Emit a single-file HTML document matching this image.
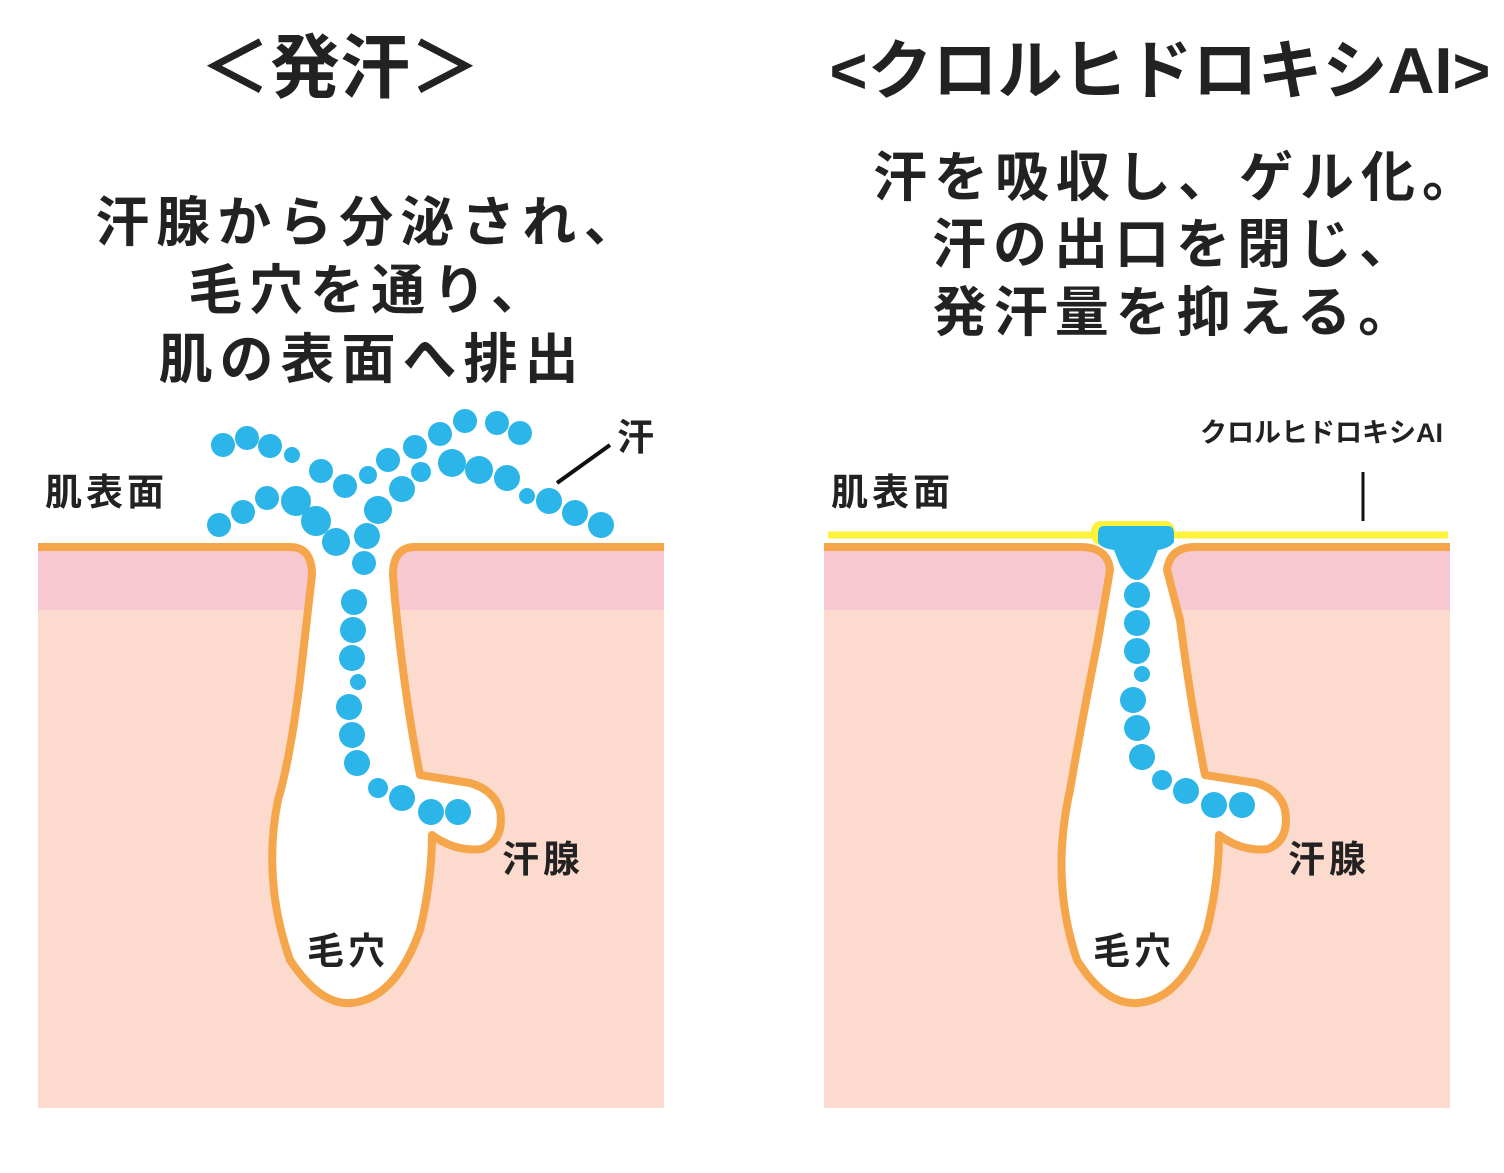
<!DOCTYPE html>
<html><head><meta charset="utf-8"><style>
body{margin:0;background:#fff;}
svg text{font-family:"Liberation Sans","Noto Sans CJK JP",sans-serif;font-weight:bold;fill:#222;}
</style></head><body>
<svg width="1504" height="1168" viewBox="0 0 1504 1168" xmlns="http://www.w3.org/2000/svg">
<defs>
<path id="poreL" d="M290,543 Q312,547 312,575 L300,680 Q290,760 278,800 Q262,880 290,960 Q320,1005 350,1003 Q395,1000 420,930 Q432,880 432,835 Q455,852 482,849 Q505,840 500,810 Q494,790 470,783 L420,775 Q405,700 395,600 L393,575 Q393,547 415,543 Z"/>
<path id="poreR" d="M1080,543 Q1108,547 1110,570 L1098,640 Q1082,720 1070,790 Q1050,880 1077,960 Q1105,1005 1137,1003 Q1182,1000 1207,930 Q1219,880 1219,835 Q1242,852 1268,849 Q1290,840 1285,810 Q1280,790 1256,783 L1205,775 Q1190,700 1180,620 L1167,570 Q1170,547 1195,543 Z"/>
</defs>
<text x="340" y="92" font-size="70" text-anchor="middle">＜発汗＞</text>
<text x="1160" y="93" font-size="65" text-anchor="middle">&lt;クロルヒドロキシAI&gt;</text>
<g font-size="54" text-anchor="middle" letter-spacing="7">
<text x="370" y="241">汗腺から分泌され、</text>
<text x="370" y="309">毛穴を通り、</text>
<text x="372" y="378">肌の表面へ排出</text>
<text x="1178" y="196">汗を吸収し、ゲル化。</text>
<text x="1176" y="263">汗の出口を閉じ、</text>
<text x="1176" y="331">発汗量を抑える。</text>
</g>
<rect x="38" y="548" width="626" height="560" fill="#fcdacd"/>
<rect x="38" y="548" width="626" height="62" fill="#f8c8d0"/>
<use href="#poreL" fill="#fff"/>
<path d="M38,547 L290,547 Q312,547 312,575 L300,680 Q290,760 278,800 Q262,880 290,960 Q320,1005 350,1003 Q395,1000 420,930 Q432,880 432,835 Q455,852 482,849 Q505,840 500,810 Q494,790 470,783 L420,775 Q405,700 395,600 L393,575 Q393,547 415,547 L664,547" fill="none" stroke="#f5a64a" stroke-width="8" stroke-linejoin="round"/>
<rect x="824" y="548" width="626" height="560" fill="#fcdacd"/>
<rect x="824" y="548" width="626" height="62" fill="#f8c8d0"/>
<use href="#poreR" fill="#fff"/>
<path d="M824,547 L1080,547 Q1108,547 1110,570 L1098,640 Q1082,720 1070,790 Q1050,880 1077,960 Q1105,1005 1137,1003 Q1182,1000 1207,930 Q1219,880 1219,835 Q1242,852 1268,849 Q1290,840 1285,810 Q1280,790 1256,783 L1205,775 Q1190,700 1180,620 L1167,570 Q1170,547 1195,547 L1450,547" fill="none" stroke="#f5a64a" stroke-width="8" stroke-linejoin="round"/>
<line x1="828" y1="535" x2="1448" y2="535" stroke="#fff23a" stroke-width="7"/>
<rect x="1091" y="521" width="84" height="24" rx="10" fill="#fff23a"/>
<path d="M1104,526 L1168,526 Q1174,526 1174,534 L1174,542 Q1170,548 1158,550 L1152,565 Q1145,580 1137,580 Q1128,580 1120,565 L1114,550 Q1100,548 1098,542 L1098,534 Q1098,526 1104,526 Z" fill="#2bb5e8"/>
<g fill="#2bb5e8">
<circle cx="223" cy="445" r="12"/><circle cx="247" cy="438" r="12"/><circle cx="270" cy="446" r="12"/><circle cx="292" cy="455" r="8"/><circle cx="321" cy="471" r="12"/><circle cx="345" cy="486" r="12"/><circle cx="368" cy="475" r="9"/><circle cx="388" cy="460" r="12"/><circle cx="415" cy="447" r="12"/><circle cx="440" cy="434" r="12"/><circle cx="465" cy="421" r="12"/><circle cx="497" cy="423" r="12"/><circle cx="520" cy="433" r="12"/>
<circle cx="219" cy="525" r="12"/><circle cx="243" cy="512" r="12"/><circle cx="267" cy="498" r="12"/><circle cx="296" cy="501" r="15"/><circle cx="316" cy="521" r="15"/><circle cx="336" cy="542" r="14"/><circle cx="367" cy="536" r="13"/><circle cx="378" cy="510" r="14"/><circle cx="402" cy="489" r="13"/><circle cx="421" cy="472" r="10"/><circle cx="452" cy="463" r="14"/><circle cx="479" cy="470" r="14"/><circle cx="507" cy="478" r="13"/><circle cx="527" cy="496" r="8"/><circle cx="549" cy="501" r="13"/><circle cx="575" cy="513" r="13"/><circle cx="601" cy="525" r="13"/>
<circle cx="364" cy="563" r="12"/><circle cx="354" cy="602" r="13"/><circle cx="353" cy="630" r="13"/><circle cx="352" cy="658" r="13"/><circle cx="358" cy="682" r="8"/><circle cx="349" cy="707" r="13"/><circle cx="352" cy="735" r="13"/><circle cx="357" cy="763" r="13"/><circle cx="378" cy="788" r="10"/><circle cx="402" cy="798" r="13"/><circle cx="431" cy="812" r="13"/><circle cx="458" cy="812" r="13"/>
<circle cx="1137" cy="595" r="13"/><circle cx="1137" cy="623" r="13"/><circle cx="1137" cy="651" r="13"/><circle cx="1142" cy="674" r="8"/><circle cx="1133" cy="700" r="13"/><circle cx="1137" cy="728" r="13"/><circle cx="1142" cy="757" r="13"/><circle cx="1162" cy="780" r="10"/><circle cx="1186" cy="791" r="13"/><circle cx="1214" cy="805" r="13"/><circle cx="1242" cy="805" r="13"/>
</g>
<g font-size="37" letter-spacing="4">
<text x="45" y="505">肌表面</text>
<text x="617" y="450">汗</text>
<text x="502" y="872">汗腺</text>
<text x="307" y="964">毛穴</text>
<text x="831" y="505">肌表面</text>
<text x="1288" y="872">汗腺</text>
<text x="1093" y="964">毛穴</text>
</g>
<text x="1200" y="442" font-size="27">クロルヒドロキシAI</text>
<line x1="557" y1="483" x2="610" y2="445" stroke="#111" stroke-width="4"/>
<line x1="1363" y1="472" x2="1363" y2="521" stroke="#111" stroke-width="3"/>
</svg>
</body></html>
